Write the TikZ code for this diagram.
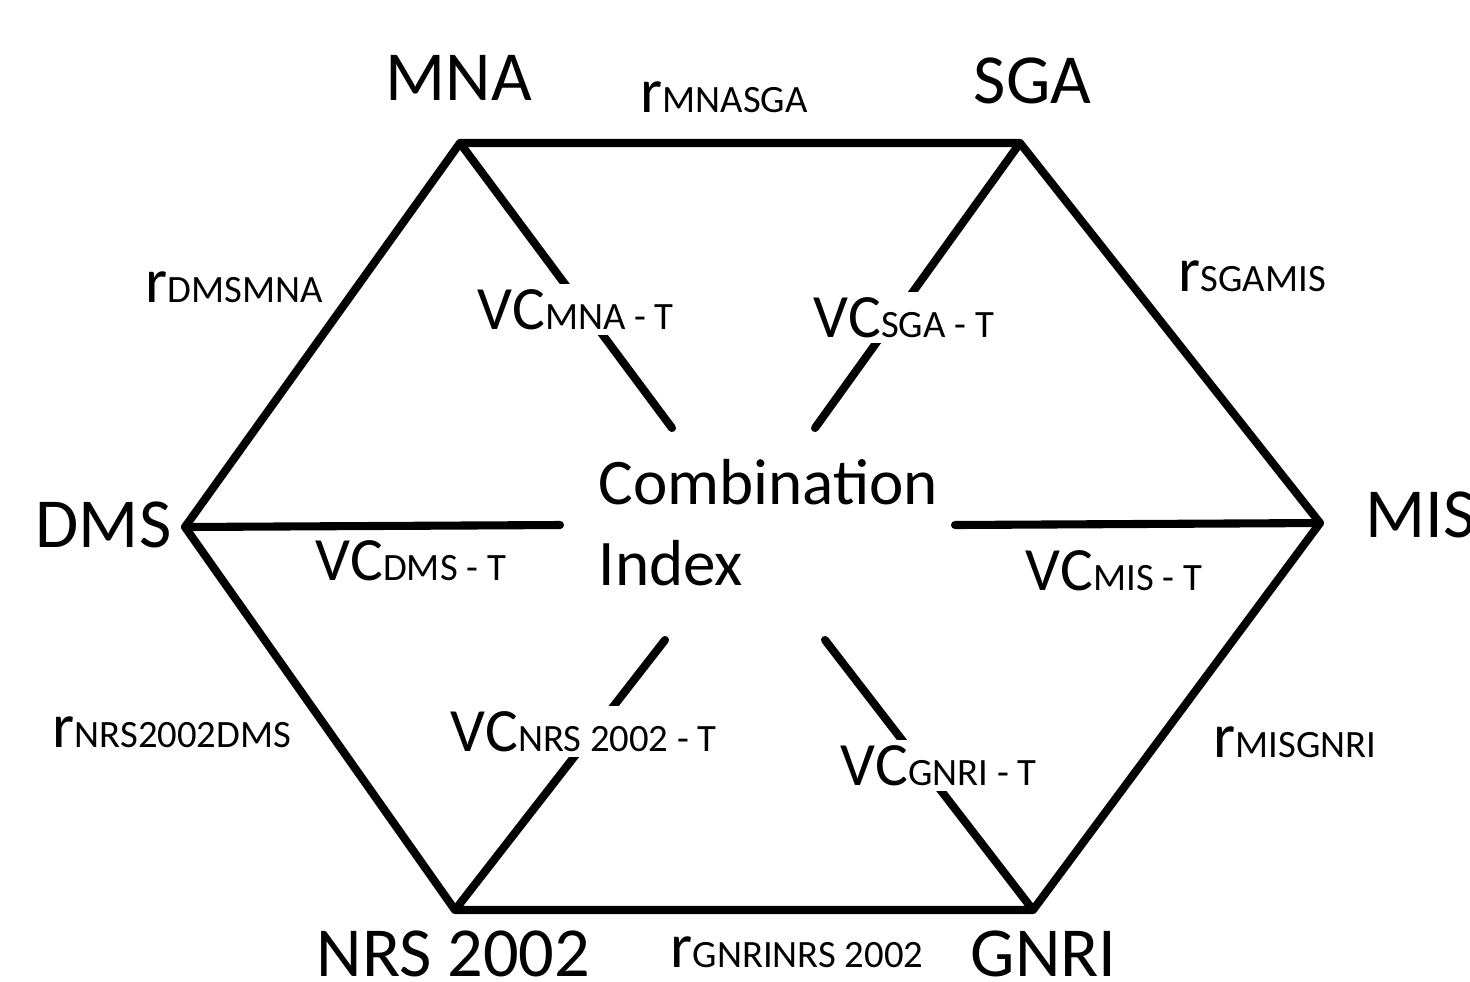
\documentclass[tikz,border=0pt]{standalone}
\usepackage{fontspec}
\setmainfont{Carlito}
\usetikzlibrary{positioning}

\newcommand\subtxt[1]{{\fontsize{11}{12}\selectfont #1}}
\newcommand\corr[1]{r\subtxt{#1}}
\newcommand\vcl[1]{VC\subtxt{#1 - T}}

\begin{document}
\begin{tikzpicture}[x=0.01cm,y=-0.01cm,
  edge/.style={line width=2.3pt,line join=round,line cap=round},
  vertex/.style={font=\fontsize{20}{24}\selectfont,inner sep=0pt,anchor=base west},
  rlabel/.style={font=\fontsize{18}{21}\selectfont,inner sep=0pt,anchor=base west},
  vclabel/.style={font=\fontsize{17.5}{21}\selectfont,inner sep=1.5pt,anchor=base west,fill=white}]
  \useasboundingbox (0,0) rectangle (1470,981);
  \clip (0,0) rectangle (1470,981);
  % corners of the hexagon
  \coordinate (mna) at (460,143);
  \coordinate (sga) at (1020,143);
  \coordinate (mis) at (1320,523);
  \coordinate (gnri) at (1033,910);
  \coordinate (nrs) at (455,910);
  \coordinate (dms) at (185,527);
  % inner ends of the spokes
  \coordinate (mnaIn) at (672,428);
  \coordinate (sgaIn) at (815,428);
  \coordinate (misIn) at (955,525);
  \coordinate (gnriIn) at (825,640);
  \coordinate (nrsIn) at (665,640);
  \coordinate (dmsIn) at (560,525);
  % hexagon and spokes
  \draw[edge] (mna) -- (sga) -- (mis) -- (gnri) -- (nrs) -- (dms) -- cycle;
  \foreach \v in {mna,sga,mis,gnri,nrs,dms}
    \draw[edge] (\v) -- (\v In);
  % centre
  \node[font=\fontsize{18.5}{22.8}\selectfont,align=left,inner sep=0pt,anchor=base west] (ci) at (598,585) {Combination\\Index};
  % methods
  \node[vertex] (lmna) at (385,100) {MNA};
  \node[vertex] (lsga) at (973,103) {SGA};
  \node[vertex] (ldms) at (35,547) {DMS};
  \node[vertex] (lmis) at (1365,537) {MIS};
  \node[vertex] (lnrs) at (316,976) {NRS 2002};
  \node[vertex] (lgnri) at (970,976) {GNRI};
  % correlations
  \node[rlabel] (rms) at (640,112) {\corr{MNASGA}};
  \node[rlabel] (rsm) at (1178,291) {\corr{SGAMIS}};
  \node[rlabel] (rdm) at (145,302) {\corr{DMSMNA}};
  \node[rlabel] (rnd) at (52,747) {\corr{NRS2002DMS}};
  \node[rlabel] (rmg) at (1213,757) {\corr{MISGNRI}};
  \node[rlabel] (rgn) at (670,967) {\corr{GNRINRS 2002}};
  % VC labels
  \node[vclabel] (vmna) at (472,329) {\vcl{MNA}};
  \node[vclabel] (vsga) at (808,337) {\vcl{SGA}};
  \node[vclabel] (vdms) at (310,580) {\vcl{DMS}};
  \node[vclabel] (vmis) at (1020,590) {\vcl{MIS}};
  \node[vclabel] (vnrs) at (445,751) {\vcl{NRS 2002}};
  \node[vclabel] (vgnri) at (835,785) {\vcl{GNRI}};
\end{tikzpicture}
\end{document}
